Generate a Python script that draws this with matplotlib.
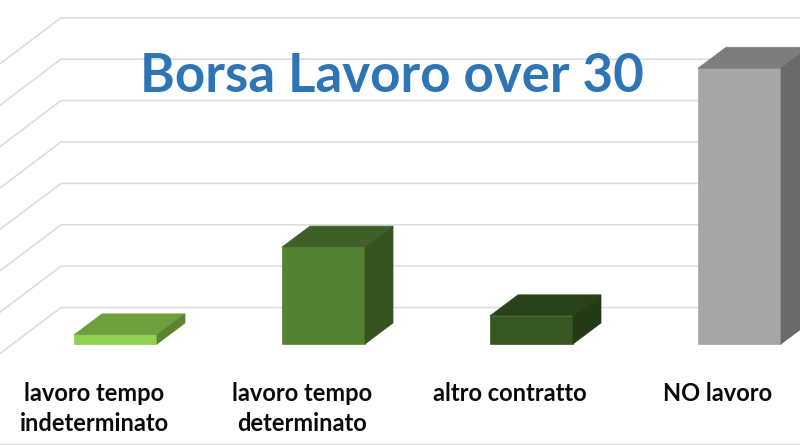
import matplotlib
matplotlib.use('Agg')
import matplotlib.pyplot as plt

categories = ['lavoro tempo\nindeterminato', 'lavoro tempo\ndeterminato', 'altro contratto', 'NO lavoro']
values = [1.1, 11.7, 3.4, 33.3]
grid_values = [4.4, 9.4, 14.4, 19.4, 24.4, 29.4, 34.4, 39.4, ]
front_colors = ['#92D050', '#548235', '#385723', '#A6A6A6']
top_colors = ['#6F9E3C', '#3F6128', '#2A421A', '#7D7D7D']
side_colors = ['#5B8231', '#36531F', '#253A17', '#696969']

# one value unit is 8.28 px, value 0 of the bars sits at y=344 px
px = 8.28
fig = plt.figure(figsize=(8, 4.45), dpi=100)
ax = fig.add_axes([0, 0, 1, 1])
ax.set_xlim(0, 800)
ax.set_ylim(-(445 - 344) / px, 344 / px)
ax.axis('off')

grid_color = '#DDDDDD'
for g in grid_values:
    ax.plot([0, 61, 800], [g - 46 / px, g, g], color=grid_color, lw=1.2, zorder=1, solid_joinstyle='miter')

bar_left = 74
bar_step = 208
bar_w = 83
dx = 28
dy = 21 / px
for i, v in enumerate(values):
    x0 = bar_left + i * bar_step
    x1 = x0 + bar_w
    ax.fill([x0, x1, x1, x0], [0, 0, v, v], color=front_colors[i], lw=0.5, zorder=3)
    ax.fill([x0, x1, x1 + dx, x0 + dx], [v, v, v + dy, v + dy], color=top_colors[i], lw=0.5, zorder=3)
    ax.fill([x1, x1 + dx, x1 + dx, x1], [0, dy, v + dy, v], color=side_colors[i], lw=0.5, zorder=3)
    ax.text(x0 + 20, -(382 - 344) / px, categories[i], ha='center', va='top', fontsize=17,
            fontweight='bold', family='Lato', color='#0A0A0A', linespacing=1.36, zorder=4)

ax.text(392, (344 - 76) / px, 'Borsa Lavoro over 30', ha='center', va='center', fontsize=38.1,
        fontweight='bold', family='Lato', color='#2E75B6', zorder=5)
ax.plot([0, 800], [-(444 - 344) / px] * 2, color='#D9D9D9', lw=1, zorder=2)

fig.savefig('out.png', dpi=100)
